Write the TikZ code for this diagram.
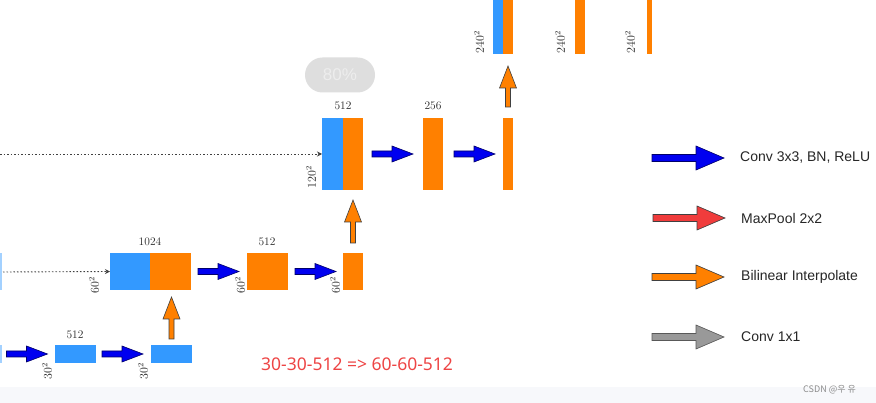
\documentclass[tikz,border=0pt]{standalone}
\usepackage{fontspec}
\newfontfamily\lsans{Liberation Sans}
\newfontfamily\nsans{Noto Sans}
\newfontfamily\krfont{Noto Sans CJK KR}
\usetikzlibrary{arrows.meta,calc}
\definecolor{cblue}{HTML}{3399FF}
\definecolor{corange}{HTML}{FF8000}
\definecolor{carrow}{HTML}{0000F0}
\definecolor{carrowdk}{HTML}{00006A}
\definecolor{cred}{HTML}{F03C3C}
\definecolor{cgray}{HTML}{999999}
\definecolor{ctext}{HTML}{EE4444}
\definecolor{cband}{HTML}{F7F8FB}
\definecolor{cpill}{HTML}{DEDEDE}
% right-pointing block arrow: style, start coord, length, head length, shaft half, head half
\newcommand\rarr[6]{\draw[#1] ($(#2)+(0,-#5)$) -- ++({#3-#4},0) -- ++(0,{-(#6-#5)}) -- ++(#4,#6) -- ++(-#4,#6) -- ++(0,{-(#6-#5)}) -- ++({-(#3-#4)},0) -- cycle;}
% up-pointing block arrow
\newcommand\uarr[6]{\draw[#1] ($(#2)+(-#5,0)$) -- ++(0,{-(#3-#4)}) -- ++({-(#6-#5)},0) -- ++(#6,-#4) -- ++(#6,#4) -- ++({-(#6-#5)},0) -- ++(0,{#3-#4}) -- cycle;}
\begin{document}
\begin{tikzpicture}[x=1pt,y=-1pt,
  box/.style={inner sep=0pt, outer sep=0pt, anchor=north west, draw=none},
  bluebox/.style={box, fill=cblue},
  orabox/.style={box, fill=corange},
  lbl/.style={font=\fontsize{11.5}{12}\selectfont, inner sep=0pt, text=black!85},
  dimlbl/.style={font=\fontsize{11.5}{12}\selectfont, rotate=90, inner sep=0pt, text=black!85},
  convarr/.style={fill=carrow, draw=carrowdk, line width=0.6pt, line join=miter},
  poolarr/.style={fill=cred, draw=black!75, line width=0.6pt},
  uparr/.style={fill=corange, draw=black!75, line width=0.6pt},
  onearr/.style={fill=cgray, draw=black!65, line width=0.6pt},
  skipline/.style={draw=black!75, dash pattern=on 1.5pt off 2pt, line width=0.9pt, -{Stealth[length=5pt,width=5pt]}},
  legtext/.style={font=\lsans\fontsize{14}{15}\selectfont, anchor=west, inner sep=0pt, text=black!85}]
\useasboundingbox (0,0) rectangle (876,403);
\fill[white] (0,0) rectangle (876,403);
\fill[cband] (0,387) rectangle (876,403);

% slivers at left edge
\node[box, fill=cblue!45, minimum width=1.5, minimum height=37] (s1) at (0,253) {};
\node[box, fill=cblue!45, minimum width=1.5, minimum height=18] (s2) at (0,345) {};

% bottom row
\node[bluebox, minimum width=41, minimum height=18] (b1) at (55,345) {};
\node[bluebox, minimum width=41, minimum height=18] (b2) at (151,345) {};
\node[lbl] (lb1) at (75,335) {512};
\node[dimlbl] (db1) at (47,371) {$30^2$};
\node[dimlbl] (db2) at (143,371) {$30^2$};

% middle row
\node[bluebox, minimum width=40, minimum height=37] (m1a) at (110,253) {};
\node[orabox, minimum width=41, minimum height=37] (m1b) at (150,253) {};
\node[orabox, minimum width=41, minimum height=37] (m2) at (247,253) {};
\node[orabox, minimum width=20, minimum height=37] (m3) at (343,253) {};
\node[lbl] (lm1) at (150,242) {1024};
\node[lbl] (lm2) at (267,242) {512};
\node[dimlbl] (dm1) at (94,285) {$60^2$};
\node[dimlbl] (dm2) at (240,285) {$60^2$};
\node[dimlbl] (dm3) at (335,285) {$60^2$};

% upper row
\node[bluebox, minimum width=21, minimum height=72] (u1a) at (322,118) {};
\node[orabox, minimum width=20, minimum height=72] (u1b) at (343,118) {};
\node[orabox, minimum width=20, minimum height=72] (u2) at (423,118) {};
\node[orabox, minimum width=10, minimum height=72] (u3) at (503,118) {};
\node[lbl] (lu1) at (343,106) {512};
\node[lbl] (lu2) at (433,106) {256};
\node[dimlbl] (du1) at (311,177) {$120^2$};

% top row
\node[bluebox, minimum width=10, minimum height=54] (t1a) at (493,0) {};
\node[orabox, minimum width=10, minimum height=54] (t1b) at (503,0) {};
\node[orabox, minimum width=10, minimum height=54] (t2) at (575,0) {};
\node[orabox, minimum width=5, minimum height=54] (t3) at (647,0) {};
\node[dimlbl] (dt1) at (479,42) {$240^2$};
\node[dimlbl] (dt2) at (560,42) {$240^2$};
\node[dimlbl] (dt3) at (630,42) {$240^2$};

% skip connections
\coordinate (k1) at (0,154);
\coordinate (k2) at (3,272);
\draw[skipline] (k1) -- (u1a.west);
\draw[skipline] (k2) -- (m1a.west);

% conv arrows
\coordinate (a1) at ($(s2.east)+(5,0)$);
\coordinate (a2) at ($(b1.east)+(6,0)$);
\coordinate (a3) at ($(m1b.east)+(7,0)$);
\coordinate (a4) at ($(m2.east)+(7,0)$);
\coordinate (a5) at ($(u1b.east)+(9,0)$);
\coordinate (a6) at ($(u2.east)+(11,0)$);
\rarr{convarr}{a1}{41}{21}{3}{8}
\rarr{convarr}{a2}{41}{21}{3}{8}
\rarr{convarr}{a3}{41}{21}{3}{8}
\rarr{convarr}{a4}{41}{21}{3}{8}
\rarr{convarr}{a5}{41}{21}{3}{8}
\rarr{convarr}{a6}{41}{21}{3}{8}

% upsampling arrows
\coordinate (p1) at ($(b2.north)+(0,-6)$);
\coordinate (p2) at ($(m3.north)+(0,-10)$);
\coordinate (p3) at ($(u3.north)+(0,-11)$);
\uarr{uparr}{p1}{42}{22}{2.5}{8.5}
\uarr{uparr}{p2}{43}{22}{2.5}{8.5}
\uarr{uparr}{p3}{41}{22}{2.5}{8.5}

% overlay pill
\node[fill=cpill, rounded corners=17.5pt, minimum width=70, minimum height=35, inner sep=0pt,
  text=white!45!cpill, font=\lsans\fontsize{17}{17}\selectfont] (pill) at (340,75) {80\%};

% note
\node[text=ctext, font=\nsans\fontsize{17.5}{18}\selectfont, anchor=west, inner sep=0pt] (note) at (261,364) {30-30-512 => 60-60-512};

% legend
\coordinate (l1) at (652,158);
\coordinate (l2) at (653,218);
\coordinate (l3) at (652,277);
\coordinate (l4) at (652,337);
\rarr{convarr}{l1}{72}{28}{3.5}{12}
\rarr{poolarr}{l2}{72}{28}{3.5}{12}
\rarr{uparr}{l3}{72}{28}{3.5}{12}
\rarr{onearr}{l4}{72}{28}{3.5}{12}
\node[legtext] (tl1) at (740,158) {Conv 3x3, BN, ReLU};
\node[legtext] (tl2) at (741,218) {MaxPool 2x2};
\node[legtext] (tl3) at (741,277) {Bilinear Interpolate};
\node[legtext] (tl4) at (741,337) {Conv 1x1};

% watermark
\node[text=black!45, font=\krfont\fontsize{9}{10}\selectfont, anchor=west, inner sep=0pt] (wm) at (803,390) {CSDN @우 유};
\end{tikzpicture}
\end{document}
